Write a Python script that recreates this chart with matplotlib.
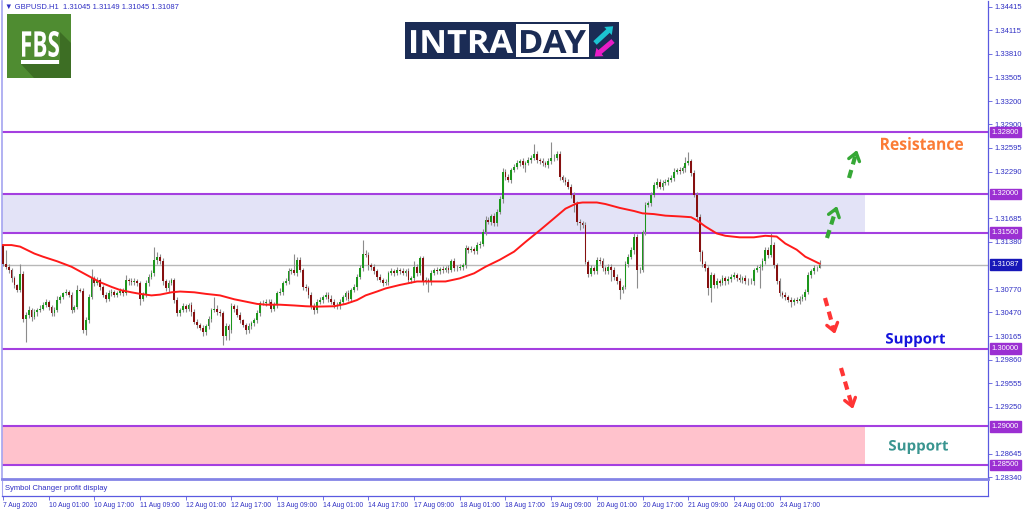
import matplotlib
matplotlib.use("Agg")
import matplotlib.pyplot as plt
import matplotlib.transforms as mtransforms
import numpy as np
from matplotlib.font_manager import FontProperties
from matplotlib.patches import FancyArrow, PathPatch, Polygon, Rectangle
from matplotlib.textpath import TextPath
from matplotlib.transforms import Affine2D

plt.rcParams["font.family"] = ["Liberation Sans", "DejaVu Sans"]

# GBPUSD H1, prices in pips above 1.30000
BASE = 1.30000
PIP = 0.0001
first_open = 134
closes = [
    110, 106, 102, 91, 82, 76, 97, 39, 44, 50, 41, 47, 50, 52, 57, 60, 54, 46, 50, 63,
    67, 72, 73, 70, 50, 54, 76, 75, 24, 37, 67, 91, 85, 89, 80, 70, 65, 72, 74, 70,
    72, 75, 72, 89, 87, 86, 88, 85, 65, 70, 85, 93, 98, 115, 119, 113, 87, 78, 85, 89,
    63, 46, 50, 55, 52, 57, 48, 35, 31, 27, 22, 29, 39, 50, 52, 48, 46, 16, 29, 24,
    55, 52, 44, 37, 31, 24, 29, 33, 37, 46, 59, 59, 61, 60, 52, 57, 72, 74, 85, 87,
    100, 102, 98, 115, 102, 80, 78, 70, 55, 50, 61, 63, 67, 70, 65, 61, 57, 55, 61, 67,
    72, 65, 76, 80, 93, 104, 123, 121, 108, 106, 100, 93, 89, 85, 86, 98, 100, 98, 102, 100,
    98, 100, 89, 91, 106, 98, 117, 87, 89, 87, 98, 102, 100, 103, 102, 104, 102, 113, 104, 105,
    106, 108, 130, 128, 129, 126, 134, 136, 151, 166, 164, 171, 162, 177, 194, 229, 222, 218, 231, 235,
    240, 242, 237, 240, 244, 247, 251, 244, 242, 240, 238, 242, 246, 247, 252, 222, 218, 216, 209, 199,
    188, 164, 162, 160, 112, 97, 104, 100, 115, 113, 104, 100, 106, 102, 93, 87, 76, 80, 110, 119,
    127, 145, 102, 102, 151, 186, 188, 199, 212, 216, 209, 214, 216, 218, 221, 229, 231, 230, 233, 240,
    242, 227, 199, 170, 125, 110, 104, 78, 95, 82, 87, 85, 91, 87, 90, 93, 95, 92, 89, 91,
    87, 88, 87, 102, 104, 106, 113, 128, 121, 134, 108, 87, 72, 69, 67, 63, 61, 63, 62, 65,
    67, 74, 95, 100, 104, 104.5, 108.7,
]
wick_up = [
    2, 18, 3, 2, 3, 2, 13, 3, 4, 5, 3, 4, 3, 5, 3, 4, 3, 2, 4, 5,
    3, 2, 4, 3, 3, 2, 7, 3, 3, 4, 4, 12, 3, 4, 3, 2, 3, 4, 3, 2,
    3, 4, 3, 6, 3, 4, 3, 2, 3, 3, 4, 3, 4, 17, 6, 3, 4, 3, 4, 3,
    3, 4, 3, 4, 3, 2, 3, 4, 3, 3, 4, 3, 4, 3, 15, 4, 3, 3, 4, 3,
    4, 3, 4, 3, 2, 3, 4, 3, 3, 4, 3, 4, 3, 3, 4, 3, 3, 4, 3, 4,
    4, 3, 21, 4, 3, 3, 4, 3, 3, 4, 3, 4, 3, 4, 3, 4, 3, 3, 4, 3,
    3, 4, 3, 4, 3, 4, 17, 5, 4, 3, 4, 3, 4, 3, 4, 3, 4, 3, 4, 3,
    4, 3, 4, 3, 7, 4, 3, 3, 4, 3, 4, 3, 4, 3, 4, 3, 4, 3, 4, 3,
    4, 3, 4, 3, 4, 3, 4, 3, 4, 5, 4, 3, 4, 4, 3, 4, 3, 4, 3, 4,
    4, 3, 4, 3, 4, 3, 14, 4, 3, 4, 3, 4, 21, 4, 3, 4, 3, 4, 3, 4,
    4, 3, 4, 3, 4, 3, 4, 3, 4, 3, 4, 3, 4, 3, 4, 3, 4, 3, 4, 3,
    4, 4, 3, 4, 3, 4, 3, 4, 3, 4, 3, 4, 3, 4, 3, 4, 3, 4, 3, 8,
    12, 3, 4, 3, 4, 3, 4, 3, 4, 3, 4, 3, 4, 3, 4, 3, 4, 3, 4, 3,
    4, 3, 4, 3, 4, 3, 4, 3, 4, 15, 4, 3, 4, 3, 4, 3, 4, 3, 4, 3,
    4, 3, 4, 3, 4, 3, 6,
]
wick_dn = [
    3, 3, 4, 5, 4, 3, 3, 4, 30, 4, 5, 3, 4, 3, 2, 3, 4, 3, 4, 3,
    4, 3, 2, 3, 4, 3, 3, 2, 4, 6, 3, 3, 4, 3, 4, 3, 5, 3, 4, 3,
    3, 2, 4, 3, 4, 3, 3, 4, 8, 3, 3, 4, 3, 4, 5, 3, 4, 3, 4, 3,
    4, 3, 4, 3, 4, 3, 5, 3, 4, 3, 6, 4, 3, 4, 3, 4, 3, 11, 4, 12,
    3, 4, 3, 4, 3, 5, 4, 3, 4, 3, 4, 3, 4, 3, 4, 3, 4, 3, 4, 3,
    3, 4, 3, 4, 3, 4, 3, 4, 3, 5, 4, 3, 4, 3, 4, 3, 4, 3, 4, 3,
    4, 3, 4, 3, 4, 3, 4, 3, 6, 4, 3, 4, 3, 4, 3, 4, 3, 4, 3, 4,
    3, 4, 3, 4, 3, 4, 3, 4, 3, 13, 4, 3, 4, 3, 4, 3, 4, 3, 4, 3,
    3, 4, 3, 4, 3, 4, 3, 4, 3, 4, 3, 4, 3, 4, 3, 6, 4, 3, 4, 3,
    3, 4, 3, 8, 3, 4, 3, 4, 3, 4, 3, 4, 3, 4, 3, 4, 3, 4, 3, 4,
    11, 4, 9, 4, 3, 4, 3, 4, 3, 4, 3, 4, 3, 15, 4, 3, 11, 4, 3, 4,
    3, 4, 24, 4, 3, 4, 3, 4, 3, 4, 3, 4, 3, 4, 3, 4, 3, 4, 3, 4,
    3, 4, 3, 4, 12, 4, 3, 8, 17, 4, 3, 4, 3, 4, 3, 4, 3, 4, 3, 4,
    3, 4, 3, 4, 3, 26, 4, 3, 4, 3, 4, 3, 4, 3, 4, 3, 7, 4, 3, 4,
    3, 4, 3, 4, 3, 4, 0,
]

# red moving average, read at sample bars
ma_bars = [0, 3, 6, 11, 14, 19, 24, 27, 31, 34, 38, 41, 45, 48, 52, 55, 59, 62, 67, 71,
           76, 81, 85, 89, 92, 97, 102, 106, 110, 116, 120, 124, 127, 131, 134, 139, 145, 155, 160, 165,
           169, 174, 179, 183, 188, 193, 197, 201, 203, 208, 211, 216, 221, 224, 228, 232, 237, 241, 243, 246,
           250, 253, 258, 263, 267, 271, 274, 278, 281, 286]
ma_pips = [134, 134, 132, 123, 119, 113, 106, 100, 92, 86, 80, 76, 73, 71, 69, 70, 73, 74, 73, 71,
           69, 64, 61, 58, 57, 57, 56, 55, 54.5, 55, 58, 63, 69, 74, 78, 82.5, 87, 87, 91, 97.5,
           106, 115, 125.5, 138, 153, 168.5, 181, 188, 189, 189, 187, 182, 178, 175, 174, 172, 171, 170, 166, 158,
           149, 146, 144, 144, 146, 145, 136, 128, 119, 110]

levels = [1.32800, 1.32000, 1.31500, 1.30000, 1.29000, 1.28500]
last_price = 1.31087
resistance_zone = (1.31500, 1.32000)
support_zone = (1.28500, 1.29000)
zone_end_bar = 302

price_ticks = [1.34415, 1.34115, 1.33810, 1.33505, 1.33200, 1.32900, 1.32595, 1.32290,
               1.31685, 1.31380, 1.30770, 1.30470, 1.30165, 1.29860, 1.29555, 1.29250,
               1.28645, 1.28340]
time_labels = ["7 Aug 2020", "10 Aug 01:00", "10 Aug 17:00", "11 Aug 09:00", "12 Aug 01:00",
               "12 Aug 17:00", "13 Aug 09:00", "14 Aug 01:00", "14 Aug 17:00", "17 Aug 09:00",
               "18 Aug 01:00", "18 Aug 17:00", "19 Aug 09:00", "20 Aug 01:00", "20 Aug 17:00",
               "21 Aug 09:00", "24 Aug 01:00", "24 Aug 17:00"]
BARS_PER_LABEL = 16

assert len(closes) == len(wick_up) == len(wick_dn)

BULL = "#1c961c"
BEAR = "#861010"
WICK = "#8c8c8c"
LEVEL = "#a43fe0"
LEVEL_BOX = "#9b2fd2"
AXIS_BLUE = "#5a5ae0"
TEXT_BLUE = "#3030c4"

W, H = 1024, 511
fig = plt.figure(figsize=(W / 100, H / 100), dpi=100)
fig.patch.set_facecolor("white")

ax = fig.add_axes([2 / W, (H - 479) / H, 986 / W, 478 / H])
sub = fig.add_axes([2 / W, (H - 496) / H, 986 / W, 15 / H], sharex=ax)

o = BASE + np.array([first_open] + closes[:-1], dtype=float) * PIP
c = BASE + np.array(closes, dtype=float) * PIP
hi = np.maximum(o, c) + np.array(wick_up) * PIP
lo = np.minimum(o, c) - np.array(wick_dn) * PIP
x = np.arange(len(closes))
up = c >= o

ax.vlines(x, lo, hi, color=WICK, lw=0.8, zorder=3)
ax.bar(x[up], np.maximum((c - o)[up], 0.00003), bottom=o[up], width=0.62,
       color=BULL, lw=0, zorder=4)
ax.bar(x[~up], np.maximum((o - c)[~up], 0.00003), bottom=c[~up], width=0.62,
       color=BEAR, lw=0, zorder=4)
ax.plot(ma_bars, BASE + np.array(ma_pips) * PIP, color="#ff1a1a", lw=1.4, zorder=5)

xmin, xmax = -0.35, 345.0
ax.set_xlim(xmin, xmax)
ax.set_ylim(1.28319, 1.34492)

for lo_z, hi_z, col in [(*resistance_zone, "#e3e3f7"), (*support_zone, "#ffc2cc")]:
    ax.add_patch(Rectangle((xmin, lo_z), zone_end_bar - xmin, hi_z - lo_z,
                           fc=col, ec="none", zorder=1))
for lvl in levels:
    ax.axhline(lvl, color=LEVEL, lw=1.5, zorder=2)
ax.axhline(last_price, color="#b8b8b8", lw=1.0, zorder=2)

# right price axis
ax.yaxis.tick_right()
ax.set_yticks(price_ticks)
ax.set_yticklabels([f"{v:.5f}" for v in price_ticks])
ax.tick_params(axis="y", direction="out", length=3, width=0.6, color=AXIS_BLUE,
               labelsize=5.5, labelcolor=TEXT_BLUE, pad=2)
ax.tick_params(axis="x", bottom=False, labelbottom=False)
ytr = mtransforms.blended_transform_factory(ax.transAxes, ax.transData)
for lvl in levels:
    ax.text(1.004, lvl, f"{lvl:.5f}", transform=ytr, ha="left", va="center", fontsize=5.5,
            color="white", clip_on=False, zorder=20,
            bbox=dict(boxstyle="square,pad=0.25", fc=LEVEL_BOX, ec=LEVEL_BOX))
ax.text(1.004, last_price, f"{last_price:.5f}", transform=ytr, ha="left", va="center",
        fontsize=5.5, color="white", clip_on=False, zorder=20,
        bbox=dict(boxstyle="square,pad=0.25", fc="#1717b8", ec="#1717b8"))

ax.spines["top"].set_visible(False)
ax.spines["left"].set_color("#a4a4f0")
ax.spines["left"].set_linewidth(1.2)
ax.spines["right"].set_color(AXIS_BLUE)
ax.spines["right"].set_linewidth(0.9)
ax.spines["bottom"].set_color("#8484e6")
ax.spines["bottom"].set_linewidth(2.0)

# sub window with time axis
sub.set_yticks([])
sub.spines["top"].set_visible(False)
sub.spines["left"].set_color("#a4a4f0")
sub.spines["right"].set_color(AXIS_BLUE)
sub.spines["bottom"].set_color(AXIS_BLUE)
sub.spines["bottom"].set_linewidth(0.9)
sub.set_xticks(np.arange(len(time_labels)) * BARS_PER_LABEL)
sub.set_xticklabels(time_labels)
sub.tick_params(axis="x", direction="out", length=3, width=0.6, color=AXIS_BLUE,
                labelsize=4.9, labelcolor=TEXT_BLUE, pad=1.5)
for lab in sub.get_xticklabels():
    lab.set_ha("left")
sub.set_xlim(xmin, xmax)

# overlay in pixel coordinates for logos and annotations
ov = fig.add_axes([0, 0, 1, 1], zorder=10)
ov.set_xlim(0, W)
ov.set_ylim(H, 0)
ov.axis("off")


def fit_text(s, box, color, family="Open Sans", weight="bold"):
    x0, y0, x1, y1 = box
    path = TextPath((0, 0), s, size=10, prop=FontProperties(family=family, weight=weight))
    ext = path.get_extents()
    tr = (Affine2D().translate(-ext.x0, -ext.y0)
          .scale((x1 - x0) / ext.width, -(y1 - y0) / ext.height)
          .translate(x0, y1))
    ov.add_patch(PathPatch(tr.transform_path(path), fc=color, ec="none", lw=0))


ov.text(5, 7, "\u25bc GBPUSD.H1  1.31045 1.31149 1.31045 1.31087", fontsize=5.5,
        color=TEXT_BLUE, va="center", ha="left")
ov.text(5, 488, "Symbol Changer profit display", fontsize=5.5, color=TEXT_BLUE,
        va="center", ha="left")

# FBS logo
ov.add_patch(Rectangle((7, 14), 64, 64, fc="#4f8c31", ec="none"))
ov.add_patch(Polygon([(60, 32), (71, 43), (71, 78), (34, 78), (21, 64), (60, 64)],
                     closed=True, fc="#3d6e24", ec="none"))
fit_text("FBS", (22, 31, 59, 57), "white")
ov.add_patch(Rectangle((21, 60), 38, 4, fc="white", ec="none"))

# INTRADAY logo
ov.add_patch(Rectangle((405, 22), 214, 37, fc="#1b2c55", ec="none"))
fit_text("INTRA", (411, 30, 513, 53), "white")
ov.add_patch(Rectangle((516, 24), 73, 33, fc="white", ec="none"))
fit_text("DAY", (521, 30, 586, 53), "#1b2c55")
ov.add_patch(FancyArrow(595, 43, 13, -12, width=5, head_width=11, head_length=7,
                        length_includes_head=False, fc="#1cc4d2", ec="none"))
ov.add_patch(FancyArrow(613, 41, -13, 11, width=5, head_width=11, head_length=7,
                        length_includes_head=False, fc="#e91cc6", ec="none"))

# labels
fit_text("Resistance", (881, 137, 963, 150), "#fb7b35")
fit_text("Support", (886, 333, 945, 347), "#1414dc")
fit_text("Support", (889, 440, 948, 454), "#3a9590")


def dashed_arrow(x0, y0, x1, y1, color):
    d = np.array([x1 - x0, y1 - y0], dtype=float)
    d /= np.hypot(*d)
    ov.plot([x0, x1 - d[0] * 3], [y0, y1 - d[1] * 3], color=color, lw=3,
            dashes=(2.0, 1.4), solid_capstyle="butt")
    ov.annotate("", xy=(x1, y1), xytext=(x1 - d[0] * 5, y1 - d[1] * 5),
                arrowprops=dict(arrowstyle="->,head_length=0.55,head_width=0.4",
                                lw=2.4, color=color, shrinkA=0, shrinkB=0))


dashed_arrow(827, 238, 837, 206, "#36a836")
dashed_arrow(849, 178, 857, 150, "#36a836")
dashed_arrow(825, 298, 835, 334, "#ff3535")
dashed_arrow(841, 368, 853, 409, "#ff3535")

fig.savefig("out.png", dpi=100, facecolor="white")
